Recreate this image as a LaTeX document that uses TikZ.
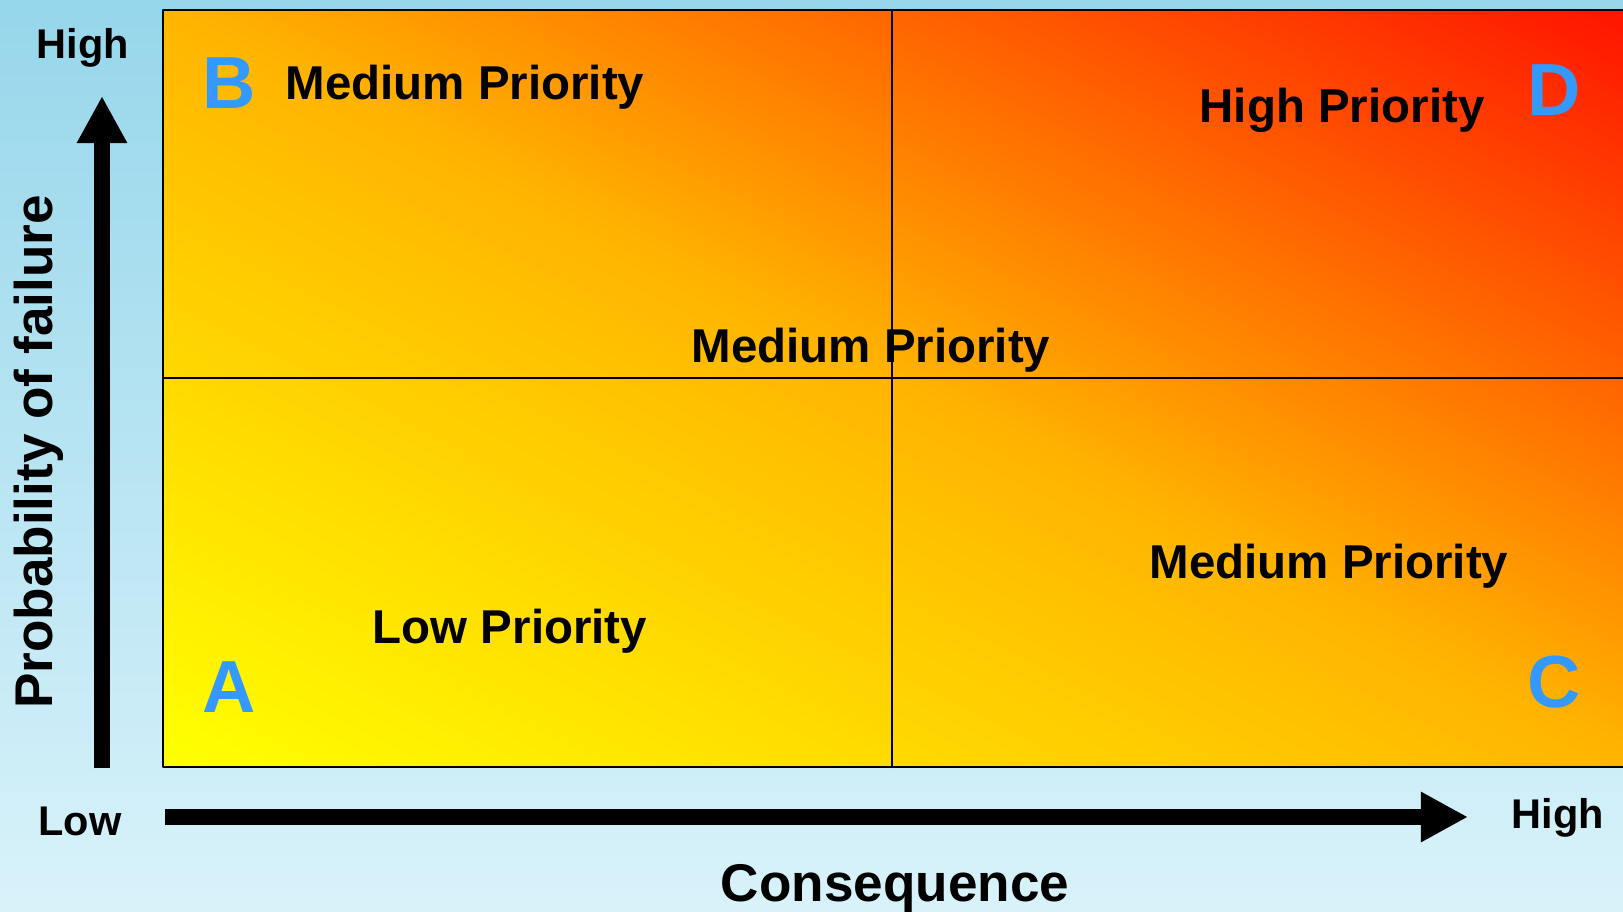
\documentclass[tikz,border=0pt]{standalone}
\usepackage{fontspec}
\setmainfont{Liberation Sans}
\usetikzlibrary{arrows.meta}
\definecolor{ffffqq}{rgb}{1.,1.,0.}
\definecolor{ffb4qq}{rgb}{1.,0.71,0.}
\definecolor{ff14qq}{rgb}{1.,0.08,0.}
\definecolor{bluezone}{rgb}{0.2,0.6,1.}
\definecolor{skytop}{rgb}{0.59,0.84,0.92}
\definecolor{skybot}{rgb}{0.85,0.95,0.98}
\pgfdeclarehorizontalshading{riskmap}{100bp}{color(0bp)=(ffffqq); color(15bp)=(ffffqq); color(50bp)=(ffb4qq); color(85bp)=(ff14qq); color(100bp)=(ff14qq)}

\begin{document}
\begin{tikzpicture}[line cap=round,line join=round,x=0.01cm,y=-0.01cm,
  prio/.style={font=\bfseries\fontsize{13.5}{16}\selectfont,inner sep=0pt,anchor=base},
  axend/.style={font=\bfseries\fontsize{11.8}{14}\selectfont,inner sep=0pt,anchor=base},
  axname/.style={font=\bfseries\fontsize{15.1}{18}\selectfont,inner sep=0pt,anchor=base},
  zone/.style={font=\bfseries\fontsize{21}{25}\selectfont,text=bluezone,inner sep=0pt,anchor=base},
  axarrow/.style={line width=0.15cm,line cap=butt,-{Triangle[length=0.47cm,width=0.47cm]}}]
\useasboundingbox (0,0) rectangle (1623,912);
\clip (0,0) rectangle (1623,912);
\shade [top color=skytop,bottom color=skybot] (0,0) rectangle (1623,912);
% risk matrix (square shading, stretched sideways)
\begin{scope}[transform canvas={shift={(163,0)},xscale=1.9511}]
\shade [shading=riskmap,shading angle=45] (0,10) rectangle (757,767);
\end{scope}
\draw [line width=0.6pt] (163,10) rectangle (1640,767);
\draw [line width=0.6pt] (892,10)-- (892,767);
\draw [line width=0.6pt] (163,378)-- (1640,378);
% axes
\coordinate (pbot) at (102,768);
\coordinate (ptop) at (102,96);
\coordinate (cleft) at (165,817);
\coordinate (cright) at (1468,817);
\draw [axarrow] (pbot)-- (ptop);
\draw [axarrow,line width=0.16cm] (cleft)-- (cright);
\node [axend] (phigh) at (83,58) {High};
\node [axend] (clow) at (80,835) {Low};
\node [axend] (chigh) at (1558,828) {High};
\node [axname] (cname) at (895,901) {Consequence};
\node [axname,rotate=90] (pname) at (53,452) {Probability of failure};
% quadrants
\node [zone] (zA) at (229,712) {A};
\node [zone] (zB) at (229,108) {B};
\node [zone] (zC) at (1554,707) {C};
\node [zone] (zD) at (1554,115) {D};
\node [prio] (pB) at (465,100) {Medium Priority};
\node [prio] (pD) at (1342,123) {High Priority};
\node [prio] (pmid) at (871,362) {Medium Priority};
\node [prio] (pC) at (1329,578) {Medium Priority};
\node [prio] (pA) at (510,643) {Low Priority};
\end{tikzpicture}
\end{document}
